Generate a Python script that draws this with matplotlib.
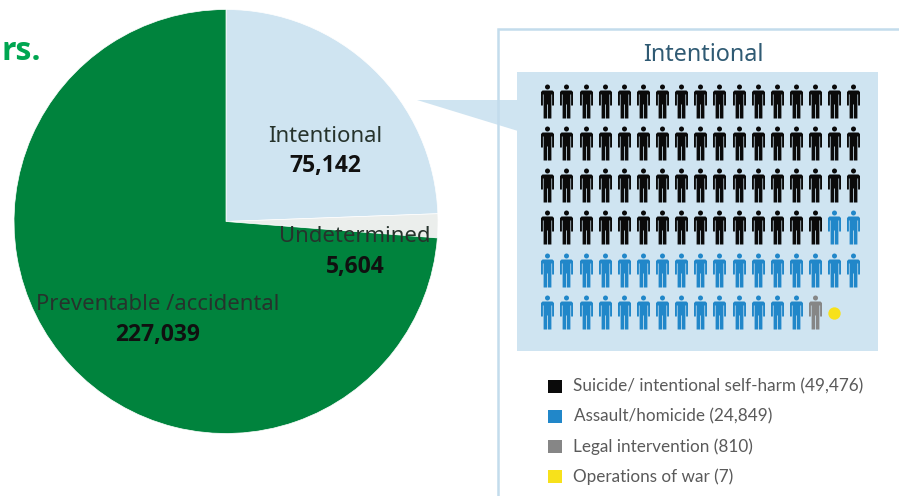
import matplotlib
matplotlib.use('Agg')
import matplotlib.pyplot as plt
from matplotlib.path import Path
from matplotlib.patches import Polygon, Rectangle

# deaths by intent
pie_labels = ['Intentional', 'Undetermined', 'Preventable /accidental']
pie_values = [75142, 5604, 227039]
pie_colors = ['#cfe4f1', '#ebeeec', '#00833d']

# intentional breakdown, one figure per block of deaths
icon_names = ['Suicide/ intentional self-harm', 'Assault/homicide', 'Legal intervention', 'Operations of war']
icon_totals = [49476, 24849, 810, 7]
icon_counts = [66, 33, 1, 1]
icon_colors = ['#0a0a0a', '#2187c9', '#868686', '#f7e11b']

W, H = 899, 496
fig = plt.figure(figsize=(W / 100, H / 100), dpi=100, facecolor='white')

# full-figure layer in pixel coordinates
ax = fig.add_axes([0, 0, 1, 1])
ax.set_xlim(0, W)
ax.set_ylim(H, 0)
ax.axis('off')

# pie
axPie = fig.add_axes([14 / W, (H - 434) / H, 424 / W, 425 / H])
axPie.pie(pie_values, colors=pie_colors, startangle=90, counterclock=False, radius=1,
          wedgeprops={'linewidth': 0.5, 'edgecolor': 'white'})
axPie.set_xlim(-1, 1)
axPie.set_ylim(-1, 1)
axPie.patch.set_visible(False)

# text layer on top of the pie
axTop = fig.add_axes([0, 0, 1, 1])
axTop.set_xlim(0, W)
axTop.set_ylim(H, 0)
axTop.axis('off')
axTop.patch.set_visible(False)

axTop.text(1, 51, 'rs.', color='#00a651', fontsize=23, fontweight='bold', family='Open Sans',
           ha='left', va='center')

# pie labels
label_pos = [(325, 136), (355, 237), (158, 305)]
for name, value, (x, y) in zip(pie_labels, pie_values, label_pos):
    axTop.text(x, y, name, ha='center', va='center', fontsize=15.9, family='Noto Sans', color='#26332c')
    axTop.text(x, y + 30, f'{value:,}', ha='center', va='center', fontsize=16.5, family='Open Sans',
               fontweight='bold', color='#101010')

# side panel frame and callout
frame_color = '#c3dcec'
ax.plot([498, 498, 899], [H, 29, 29], color=frame_color, lw=1.8, solid_joinstyle='miter')
ax.add_patch(Rectangle((517, 72), 361, 279, facecolor='#cfe4f1', edgecolor='none'))
ax.add_patch(Polygon([(417, 100), (518, 100), (518, 131)], closed=True, facecolor='#cfe4f1', edgecolor='none'))
axTop.text(703, 55, 'Intentional', ha='center', va='center', fontsize=16.8, family='Noto Sans', color='#2f5a73')

# person glyph, head plus body with arm and leg slits
head = Path.circle((0, 14.5), 2.5)
body = Path([(-5, 11), (5, 11), (6.5, 9.5), (6.5, -4), (4.6, -4), (4.6, 7), (3.9, 7), (3.9, -17),
             (0.4, -17), (0.4, -3), (-0.4, -3), (-0.4, -17), (-3.9, -17), (-3.9, 7), (-4.6, 7),
             (-4.6, -4), (-6.5, -4), (-6.5, 9.5), (-5, 11)], closed=True)
person = Path.make_compound_path(head, body)

# icon grid, filled row by row
n_cols = 17
slot = 0
for count, color in zip(icon_counts, icon_colors):
    for _ in range(count):
        row, col = divmod(slot, n_cols)
        x = 547.3 + 19.12 * col
        y = 100.5 + 42.3 * row
        if color == icon_colors[3]:
            ax.plot(x, y + 0.7, 'o', color=color, ms=8.9, mew=0)
        else:
            ax.plot(x, y, marker=person, color=color, ms=34 * 0.72, mew=0, ls='none')
        slot += 1

# legend
legend_y = [386, 416, 446, 476]
legend_x = [573, 574, 573, 573]
for name, total, color, y, x in zip(icon_names, icon_totals, icon_colors, legend_y, legend_x):
    ax.add_patch(Rectangle((548, y - 6.5), 13.5, 13.5, facecolor=color, edgecolor='none'))
    ax.text(x, y + 0.5, f'{name} ({total:,})', ha='left', va='center', fontsize=12.3, family='Lato', color='#5a5a5a')

fig.savefig('out.png', dpi=100)
